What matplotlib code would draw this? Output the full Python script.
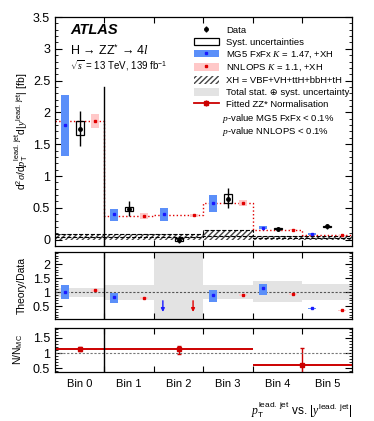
import numpy as np
import matplotlib
matplotlib.use('Agg')
import matplotlib.pyplot as plt
from matplotlib.patches import Rectangle, Patch
from matplotlib.lines import Line2D

plt.rcParams['font.family'] = ['Liberation Sans', 'DejaVu Sans']
plt.rcParams['mathtext.fontset'] = 'custom'
plt.rcParams['mathtext.rm'] = 'Liberation Sans'
plt.rcParams['mathtext.it'] = 'Liberation Serif:italic'

# bins
bin_labels = ['Bin 0', 'Bin 1', 'Bin 2', 'Bin 3', 'Bin 4', 'Bin 5']
edges = np.arange(7)
centers = edges[:-1] + 0.5

# main panel values [fb]
data = [1.74, 0.48, 0.00, 0.64, 0.17, 0.21]
data_up = [0.29, 0.12, 0.05, 0.17, 0.03, 0.04]
data_dn = [0.27, 0.11, 0.06, 0.15, 0.03, 0.04]
syst_up = [0.12, 0.03, 0.02, 0.08, 0.01, 0.01]
syst_dn = [0.10, 0.03, 0.02, 0.06, 0.01, 0.01]
mg5 = [1.81, 0.40, 0.40, 0.58, 0.19, 0.09]
mg5_hi = [2.27, 0.48, 0.49, 0.70, 0.21, 0.10]
mg5_lo = [1.31, 0.30, 0.30, 0.44, 0.17, 0.08]
nnlops = [1.87, 0.375, 0.38, 0.58, 0.155, 0.07]
nnlops_err = [0.11, 0.045, 0.03, 0.05, 0.01, 0.01]
xh_mg5 = [0.09, 0.09, 0.09, 0.155, 0.06, 0.06]
xh_nnlops = [0.045, 0.045, 0.045, 0.05, 0.03, 0.03]

# ratio panel
band_hi = [1.15, 1.24, 2.45, 1.24, 1.39, 1.30]
band_lo = [0.84, 0.72, 0.00, 0.75, 0.63, 0.71]
mg5_ratio = [1.01, 0.83, np.nan, 0.89, 1.13, 0.42]
mg5_ratio_hi = [1.27, 0.98, np.nan, 1.07, 1.29, 0.45]
mg5_ratio_lo = [0.75, 0.61, np.nan, 0.66, 0.91, 0.39]
nnlops_ratio = [1.06, 0.78, np.nan, 0.89, 0.92, 0.35]
nnlops_ratio_err = [0.04, 0.03, np.nan, 0.03, 0.04, 0.02]
arrow_top, arrow_bottom = 0.69, 0.29

# fitted ZZ* normalisation
norm_lo_edge = [0, 1, 4]
norm_hi_edge = [1, 4, 6]
norm_val = [1.13, 1.12, 0.61]
norm_x = [0.5, 2.5, 5.0]
norm_up = [0.06, 0.12, 0.57]
norm_dn = [0.07, 0.15, 0.40]

blue = '#5b8ff9'
pink = '#ffc8c8'
red = '#e00000'
w = 0.08  # half width of boxes
off_mg5, off_data, off_nn = 0.2, 0.5, 0.8

fig = plt.figure(figsize=(3.74, 4.21), dpi=100)
ax1 = fig.add_axes([0.147, 0.4157, 0.794, 0.5439])
ax2 = fig.add_axes([0.147, 0.2423, 0.794, 0.1591])
ax3 = fig.add_axes([0.147, 0.1164, 0.794, 0.1045])

# ---- main panel
ax1.fill_between(edges, np.r_[xh_mg5, xh_mg5[-1]], step='post', facecolor='none',
                 edgecolor='#444444', hatch='//////', linewidth=0)
ax1.step(edges, np.r_[xh_mg5, xh_mg5[-1]], where='post', color='k', ls='--', lw=0.8)
ax1.step(edges, np.r_[xh_nnlops, xh_nnlops[-1]], where='post', color='k', ls='--', lw=0.8)
ax1.step(edges, np.r_[nnlops, nnlops[-1]], where='post', color=red, ls=':', lw=1.0)
for i in range(6):
    x0 = edges[i]
    ax1.add_patch(Rectangle((x0 + off_mg5 - w, mg5_lo[i]), 2 * w, mg5_hi[i] - mg5_lo[i],
                            facecolor=blue, edgecolor='none', zorder=3))
    ax1.plot(x0 + off_mg5, mg5[i], 's', color='#1a1aff', ms=1.5, zorder=4)
    ax1.add_patch(Rectangle((x0 + off_nn - w, nnlops[i] - nnlops_err[i]), 2 * w,
                            2 * nnlops_err[i], facecolor=pink, edgecolor='none', zorder=3))
    ax1.plot(x0 + off_nn, nnlops[i], 's', color=red, ms=2, zorder=4)
    ax1.add_patch(Rectangle((x0 + off_data - w, data[i] - syst_dn[i]), 2 * w,
                            syst_up[i] + syst_dn[i], facecolor='none', edgecolor='k',
                            lw=0.9, zorder=5))
ax1.errorbar(centers, data, yerr=[data_dn, data_up], fmt='o', color='k', ms=2.5,
             elinewidth=1.0, capsize=0, zorder=6)
ax1.plot([1, 1], [-0.1, 2.4], color='k', lw=1.0)
ax1.set_xlim(0, 6)
ax1.set_ylim(-0.1, 3.5)
ax1.set_yticks([0, 0.5, 1, 1.5, 2, 2.5, 3, 3.5])
ax1.set_yticklabels(['0', '0.5', '1', '1.5', '2', '2.5', '3', '3.5'])
ax1.set_yticks(np.arange(0, 3.51, 0.1), minor=True)
ax1.set_ylabel(r'd$^2\sigma$/d$p_{\mathrm{T}}^{\mathrm{lead.\ jet}}$d$|y^{\mathrm{lead.\ jet}}|$ [fb]',
               fontsize=7.5, labelpad=2)

ax1.text(0.05, 0.925, 'ATLAS', transform=ax1.transAxes, fontsize=10.5,
         fontweight='bold', fontstyle='italic')
ax1.text(0.05, 0.835, r'H → ZZ$^{*}$ → 4$\mathit{l}$',
         transform=ax1.transAxes, fontsize=9)
ax1.text(0.05, 0.77, r'$\sqrt{s}$ = 13 TeV, 139 fb$^{-1}$', transform=ax1.transAxes,
         fontsize=7)
ax1.text(0.562, 0.555, r'$p$-value MG5 FxFx < 0.1%', transform=ax1.transAxes,
         fontsize=6.8, va='center')
ax1.text(0.562, 0.498, r'$p$-value NNLOPS < 0.1%', transform=ax1.transAxes,
         fontsize=6.8, va='center')

h_data = (Line2D([], [], marker='|', ls='', color='k', ms=5, mew=1.0),
          Line2D([], [], marker='o', ls='', color='k', ms=2.5))
h_syst = Patch(facecolor='white', edgecolor='k', lw=0.9)
h_mg5 = (Patch(facecolor=blue, edgecolor='none'),
         Line2D([], [], marker='s', ls='', color='#1a1aff', ms=1.5))
h_nn = (Patch(facecolor=pink, edgecolor='none'),
        Line2D([], [], marker='s', ls='', color=red, ms=2))
h_xh = Patch(facecolor='white', edgecolor='#444444', hatch='//////', lw=0)
h_tot = Patch(facecolor='#e3e3e3', edgecolor='none')
h_fit = (Line2D([], [], color='#cc0000', lw=1.3),
         Line2D([], [], marker='|', ls='', color='#cc0000', ms=5, mew=1.0),
         Line2D([], [], marker='s', ls='', color='#cc0000', ms=2.5))
leg = ax1.legend([h_data, h_syst, h_mg5, h_nn, h_xh, h_tot, h_fit],
                 ['Data', 'Syst. uncertainties', 'MG5 FxFx $K$ = 1.47, +XH',
                  'NNLOPS $K$ = 1.1, +XH', 'XH = VBF+VH+ttH+bbH+tH',
                  'Total stat. ⊕ syst. uncertainty', 'Fitted ZZ* Normalisation'],
                 loc='upper left', bbox_to_anchor=(0.468, 0.962), frameon=False,
                 fontsize=6.8, handlelength=2.6, handleheight=0.9, labelspacing=0.29,
                 handletextpad=0.8, borderpad=0, borderaxespad=0)

# ---- ratio panel
for i in range(6):
    x0 = edges[i]
    ax2.add_patch(Rectangle((x0, band_lo[i]), 1, band_hi[i] - band_lo[i],
                            facecolor='#e3e3e3', edgecolor='none', zorder=1))
    if np.isnan(mg5_ratio[i]):
        ax2.annotate('', xy=(x0 + 0.18, arrow_bottom), xytext=(x0 + 0.18, arrow_top),
                     arrowprops=dict(arrowstyle='-|>', color='#1a1aff', lw=1.0,
                                     mutation_scale=5, shrinkA=0, shrinkB=0))
        ax2.annotate('', xy=(x0 + 0.79, arrow_bottom), xytext=(x0 + 0.79, arrow_top),
                     arrowprops=dict(arrowstyle='-|>', color=red, lw=1.0,
                                     mutation_scale=5, shrinkA=0, shrinkB=0))
        continue
    ax2.add_patch(Rectangle((x0 + off_mg5 - w, mg5_ratio_lo[i]), 2 * w,
                            mg5_ratio_hi[i] - mg5_ratio_lo[i], facecolor=blue,
                            edgecolor='none', zorder=3))
    ax2.plot(x0 + off_mg5, mg5_ratio[i], 's', color='#1a1aff', ms=1.5, zorder=4)
    ax2.add_patch(Rectangle((x0 + off_nn - w, nnlops_ratio[i] - nnlops_ratio_err[i]), 2 * w,
                            2 * nnlops_ratio_err[i], facecolor=pink, edgecolor='none',
                            zorder=3))
    ax2.plot(x0 + off_nn, nnlops_ratio[i], 's', color=red, ms=2, zorder=4)
ax2.axhline(1, color='#555555', ls=(0, (2, 1.5)), lw=0.8, zorder=2)
ax2.axvline(1, color='k', lw=1.0, zorder=5)
ax2.set_xlim(0, 6)
ax2.set_ylim(0.04, 2.43)
ax2.set_yticks([0.5, 1, 1.5, 2])
ax2.set_yticklabels(['0.5', '1', '1.5', '2'])
ax2.set_ylabel('Theory/Data', fontsize=7.5, labelpad=4)

# ---- normalisation panel
for lo, hi, v in zip(norm_lo_edge, norm_hi_edge, norm_val):
    ax3.plot([lo, hi], [v, v], color='#cc0000', lw=1.4, solid_capstyle='butt')
ax3.errorbar(norm_x, norm_val, yerr=[norm_dn, norm_up], fmt='s', color='#cc0000', ms=2.5,
             elinewidth=1.0, capsize=1.5)
ax3.axhline(1, color='#777777', ls=(0, (2, 1.5)), lw=0.8)
ax3.axvline(1, color='k', lw=1.0)
ax3.set_xlim(0, 6)
ax3.set_ylim(0.37, 1.83)
ax3.set_yticks([0.5, 1, 1.5])
ax3.set_yticklabels(['0.5', '1', '1.5'])
ax3.set_ylabel(r'N/N$_{\mathrm{MC}}$', fontsize=7.5, labelpad=6)
ax3.set_xlabel(r'$p_{\mathrm{T}}^{\mathrm{lead.\ jet}}$ vs. $|y^{\mathrm{lead.\ jet}}|$',
               fontsize=8.5, loc='right', labelpad=8)

for ax in (ax1, ax2, ax3):
    ax.set_xticks(edges[1:-1])
    ax.set_xticklabels([])
    ax.tick_params(axis='both', which='both', direction='in', top=True, right=True,
                   labelsize=9)
    ax.tick_params(axis='x', which='major', length=4)
    ax.tick_params(axis='y', which='major', length=5)
    ax.tick_params(axis='y', which='minor', length=2.5)
    for s in ax.spines.values():
        s.set_linewidth(0.9)
ax3.set_xticks(centers, minor=True)
ax3.set_xticklabels(bin_labels, minor=True)
ax3.tick_params(axis='x', which='minor', length=0, labelsize=8, pad=5)
ax2.set_yticks(np.arange(0.1, 2.41, 0.1), minor=True)
ax3.set_yticks(np.arange(0.4, 1.81, 0.1), minor=True)

fig.savefig('out.png', dpi=100)
